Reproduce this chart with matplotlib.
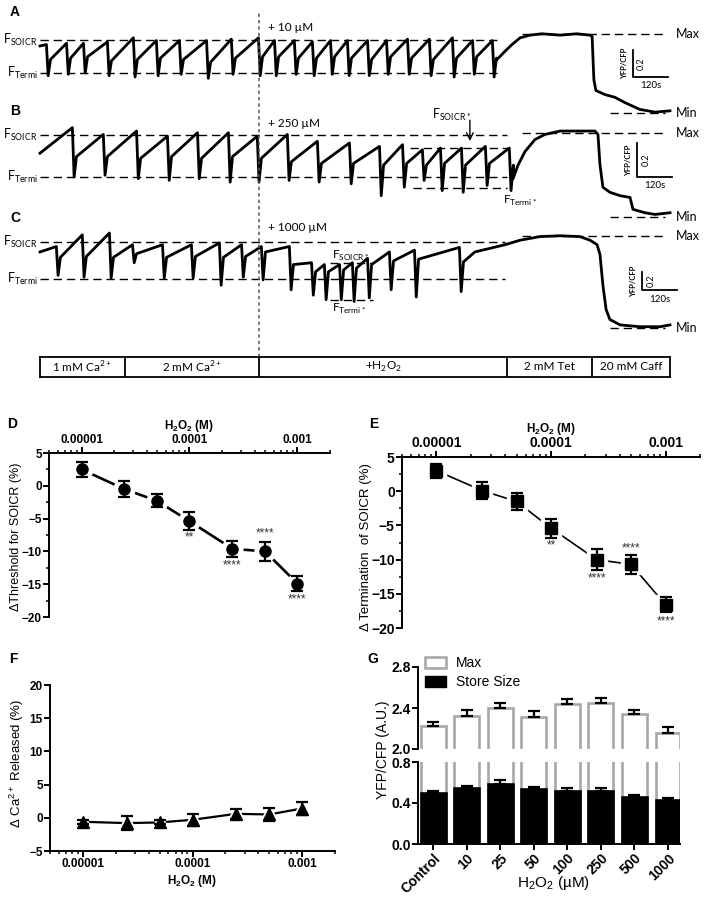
import numpy as np
import matplotlib
matplotlib.use("Agg")
import matplotlib.pyplot as plt
from matplotlib.ticker import FixedLocator, FixedFormatter, NullFormatter, LogLocator, MultipleLocator
from matplotlib.patches import Patch

# ======================= DATA =======================
# --- Traces (time in s, YFP/CFP ratio) ---
T_END = 2160
H2O2_T = 751
phase_bounds = [0, 291, 751, 1601, 1893, 2160]
phase_labels = ["1 mM Ca$^{\\mathregular{2+}}$", "2 mM Ca$^{\\mathregular{2+}}$",
                "+H$_{\\mathregular{2}}$O$_{\\mathregular{2}}$", "2 mM Tet", "20 mM Caff"]

# Trace A (+10 uM)
A_start = 2.20
A_drop_t = [24, 93, 151, 233, 322, 401, 480, 573, 658, 751, 806, 874, 936, 998, 1056, 1125, 1190, 1262, 1337, 1416, 1485, 1553]
A_peak = [2.21, 2.22, 2.22, 2.23, 2.26, 2.24, 2.24, 2.24, 2.25, 2.26, 2.24, 2.24, 2.23, 2.24, 2.24, 2.24, 2.24, 2.25, 2.25, 2.26, 2.24, 2.24]
A_trough = [1.98, 1.99, 2.00, 1.98, 1.97, 1.98, 1.99, 1.96, 1.99, 1.98, 1.98, 1.99, 1.98, 1.99, 1.98, 1.98, 1.99, 1.99, 1.98, 1.97, 1.99, 1.97]
A_recov = [2.10, 2.11, 2.12, 2.09, 2.10, 2.11, 2.10, 2.08, 2.11, 2.12, 2.12, 2.11, 2.11, 2.12, 2.11, 2.10, 2.12, 2.11, 2.10, 2.11, 2.12, 2.11]
A_tail_t = [1567, 1594, 1618, 1646, 1680, 1720, 1783, 1840, 1886, 1893, 1899, 1906, 1937, 1971, 2006, 2057, 2109, 2160]
A_tail_v = [2.10, 2.16, 2.21, 2.26, 2.28, 2.29, 2.28, 2.29, 2.28, 2.27, 1.95, 1.87, 1.84, 1.82, 1.78, 1.73, 1.71, 1.72]
A_soicr, A_termi, A_max, A_min = 2.244, 2.00, 2.289, 1.704

# Trace B (+250 uM)
B_start = 2.14
B_drop_t = [113, 219, 333, 439, 542, 648, 747, 850, 953, 1063, 1166, 1245, 1313, 1375, 1447, 1529, 1611]
B_peak = [2.29, 2.25, 2.27, 2.24, 2.26, 2.26, 2.24, 2.25, 2.21, 2.20, 2.18, 2.19, 2.16, 2.17, 2.17, 2.18, 2.17]
B_trough = [2.00, 2.01, 1.99, 1.98, 1.99, 1.97, 1.97, 1.98, 1.97, 1.96, 1.89, 1.94, 1.98, 1.92, 1.91, 1.95, 1.92]
B_recov = [2.12, 2.12, 2.11, 2.12, 2.11, 2.12, 2.11, 2.09, 2.08, 2.08, 2.07, 2.08, 2.07, 2.08, 2.07, 2.08, 2.07]
B_tail_t = [1622, 1639, 1663, 1697, 1731, 1783, 1851, 1903, 1913, 1920, 1930, 1954, 1989, 2023, 2033, 2074, 2109, 2160]
B_tail_v = [1.99, 2.07, 2.15, 2.22, 2.25, 2.27, 2.27, 2.27, 2.25, 2.07, 1.94, 1.91, 1.89, 1.88, 1.81, 1.79, 1.78, 1.79]
B_soicr, B_termi, B_max, B_min = 2.247, 2.00, 2.259, 1.765
B_soicr_star, B_termi_star = 2.171, 1.935

# Trace C (+1000 uM)
C_start = 2.30
C_drop_t = [58, 147, 240, 319, 422, 521, 617, 693, 761, 857, 933, 977, 1029, 1073, 1125, 1200, 1286, 1440]
C_peak = [2.36, 2.49, 2.51, 2.38, 2.38, 2.38, 2.40, 2.38, 2.36, 2.36, 2.18, 2.16, 2.16, 2.18, 2.23, 2.30, 2.32, 2.35]
C_trough = [2.04, 2.02, 2.01, 2.18, 2.01, 2.01, 1.93, 2.02, 1.99, 1.88, 1.82, 1.77, 1.77, 1.75, 1.79, 1.88, 1.80, 1.86]
C_recov = [2.24, 2.25, 2.24, 2.28, 2.24, 2.25, 2.24, 2.25, 2.30, 2.16, 2.08, 2.08, 2.10, 2.12, 2.16, 2.20, 2.22, 2.19]
C_tail_t = [1491, 1543, 1594, 1646, 1714, 1783, 1851, 1886, 1910, 1920, 1930, 1941, 1954, 1989, 2057, 2126, 2160]
C_tail_v = [2.30, 2.34, 2.38, 2.43, 2.47, 2.48, 2.47, 2.43, 2.38, 2.27, 1.93, 1.66, 1.55, 1.49, 1.47, 1.47, 1.49]
C_soicr, C_termi, C_max, C_min = 2.411, 2.00, 2.477, 1.456
C_soicr_star, C_termi_star = 2.178, 1.767

# --- D/E/F ---
conc_M = [1e-5, 2.5e-5, 5e-5, 1e-4, 2.5e-4, 5e-4, 1e-3]
thr_mean = [2.5, -0.5, -2.3, -5.4, -9.6, -10.0, -14.9]
thr_err = [1.1, 1.2, 1.0, 1.35, 1.25, 1.45, 1.2]
thr_stars = ["", "", "", "**", "****", "****", "****"]
thr_star_y = [0, 0, 0, -7.8, -12.1, -7.3, -17.3]

term_mean = [3.0, 0.1, -1.5, -5.4, -10.0, -10.7, -16.6]
term_err = [1.0, 1.2, 1.3, 1.4, 1.55, 1.4, 1.1]
term_stars = ["", "", "", "**", "****", "****", "****"]
term_star_y = [0, 0, 0, -8.0, -12.8, -8.3, -19.1]

ca_mean = [-0.6, -0.8, -0.7, -0.3, 0.6, 0.5, 1.4]
ca_err = [0.3, 1.1, 0.3, 0.9, 0.8, 1.0, 1.0]

log_ticks = [1e-5, 1e-4, 1e-3]
log_ticklabels = ["0.00001", "0.0001", "0.001"]

# --- G ---
g_cats = ["Control", "10", "25", "50", "100", "250", "500", "1000"]
max_vals = [2.22, 2.32, 2.40, 2.315, 2.44, 2.445, 2.34, 2.16]
max_err = [0.04, 0.06, 0.05, 0.055, 0.05, 0.05, 0.04, 0.05]
store_vals = [0.50, 0.545, 0.59, 0.535, 0.52, 0.52, 0.46, 0.43]
store_err = [0.02, 0.023, 0.03, 0.025, 0.025, 0.025, 0.016, 0.02]

# ======================= FIGURE =======================
W, H = 705, 902
fig = plt.figure(figsize=(W / 100, H / 100), dpi=100)
TOPF = ["Lato", "DejaVu Sans"]
LOWF = ["Liberation Sans", "DejaVu Sans"]
plt.rcParams["font.family"] = LOWF


def rect(x0, y0, x1, y1):
    return [x0 / W, 1 - y1 / H, (x1 - x0) / W, (y1 - y0) / H]


def build(start_v, drop_t, peak, trough, recov, tail_t, tail_v):
    t = [0.0]
    v = [start_v]
    for dt, p, tr, rc in zip(drop_t, peak, trough, recov):
        t += [dt - 2, dt + 4, dt + 12]
        v += [p, tr, rc]
    return np.array(t + list(tail_t), float), np.array(v + list(tail_v), float)


DASH = (0, (6, 3.5))


def trace_axes(box, ylim, t, v):
    ax = fig.add_axes(rect(*box))
    ax.set_xlim(0, T_END)
    ax.set_ylim(*ylim)
    ax.axis("off")
    ax.patch.set_alpha(0)
    ax.plot(t, v, color="black", lw=2.0, solid_joinstyle="round", clip_on=False)
    return ax


def ref(ax, level, t0, t1):
    ax.plot([t0, t1], [level, level], color="black", lw=1.0, ls=DASH, clip_on=False)


def flabel(ax, name, level):
    ax.text(-8, level, "F$_{\\mathregular{%s}}$" % name, ha="right", va="center",
            fontsize=9, family=TOPF)


def rlabel(ax, name, level):
    ax.text(2180, level, name, ha="left", va="center", fontsize=9, family=TOPF)


def scalebar(ax, t0, v0, dv, sx, sy):
    ax.plot([t0, t0, t0 + 120], [v0 + dv, v0, v0], color="black", lw=1.3, clip_on=False)
    ax.text(t0 + 60, v0 - sy, "120s", ha="center", va="center", fontsize=7, family=TOPF)
    ax.text(t0 + sx, v0 + dv / 2, "0.2", rotation=90, ha="center", va="center",
            fontsize=6.5, family=TOPF)
    ax.text(t0 - sx, v0 + dv / 2, "YFP/CFP", rotation=90, ha="center", va="center",
            fontsize=5.5, family=TOPF, fontweight="bold")


# ---- Trace A ----
tA, vA = build(A_start, A_drop_t, A_peak, A_trough, A_recov, A_tail_t, A_tail_v)
axA = trace_axes((40, 20, 670, 125), (1.615, 2.392), tA, vA)
ref(axA, A_soicr, 0, 1567); ref(axA, A_termi, 0, 1567)
ref(axA, A_max, 1653, 2143); ref(axA, A_min, 1954, 2143)
flabel(axA, "SOICR", A_soicr); flabel(axA, "Termi", A_termi)
rlabel(axA, "Max", A_max); rlabel(axA, "Min", A_min)
axA.text(782, 2.333, "+ 10 \u00b5M", ha="left", va="center", fontsize=8.5, family=TOPF)
scalebar(axA, 2033, 1.970, 0.2, 30, 0.066)

# ---- Trace B ----
tB, vB = build(B_start, B_drop_t, B_peak, B_trough, B_recov, B_tail_t, B_tail_v)
axB = trace_axes((40, 105, 670, 225), (1.718, 2.423), tB, vB)
ref(axB, B_soicr, 0, 1601); ref(axB, B_termi, 0, 1601)
ref(axB, B_soicr_star, 1268, 1601); ref(axB, B_termi_star, 1279, 1601)
ref(axB, B_max, 1653, 2143); ref(axB, B_min, 1954, 2143)
flabel(axB, "SOICR", B_soicr); flabel(axB, "Termi", B_termi)
rlabel(axB, "Max", B_max); rlabel(axB, "Min", B_min)
axB.text(782, 2.312, "+ 250 \u00b5M", ha="left", va="center", fontsize=8.5, family=TOPF)
axB.text(1344, 2.362, "F$_{\\mathregular{SOICR*}}$", ha="left", va="center", fontsize=9, family=TOPF)
axB.annotate("", xy=(1474, 2.195), xytext=(1474, 2.35),
             arrowprops=dict(arrowstyle="->", color="black", lw=1.0, mutation_scale=12))
axB.text(1587, 1.862, "F$_{\\mathregular{Termi*}}$", ha="left", va="center", fontsize=8.5, family=TOPF)
scalebar(axB, 2047, 2.00, 0.2, 30, 0.05)

# ---- Trace C ----
tC, vC = build(C_start, C_drop_t, C_peak, C_trough, C_recov, C_tail_t, C_tail_v)
axC = trace_axes((40, 215, 670, 335), (1.378, 2.710), tC, vC)
ref(axC, C_soicr, 0, 1594); ref(axC, C_termi, 0, 1594)
ref(axC, C_soicr_star, 994, 1142); ref(axC, C_termi_star, 994, 1142)
ref(axC, C_max, 1653, 2143); ref(axC, C_min, 1954, 2143)
flabel(axC, "SOICR", C_soicr); flabel(axC, "Termi", C_termi)
rlabel(axC, "Max", C_max); rlabel(axC, "Min", C_min)
axC.text(782, 2.566, "+ 1000 \u00b5M", ha="left", va="center", fontsize=8.5, family=TOPF)
axC.text(1000, 2.25, "F$_{\\mathregular{SOICR*}}$", ha="left", va="center", fontsize=8.5, family=TOPF)
axC.text(1000, 1.667, "F$_{\\mathregular{Termi*}}$", ha="left", va="center", fontsize=8.5, family=TOPF)
scalebar(axC, 2064, 1.878, 0.2, 30, 0.11)

# vertical H2O2 line
axV = fig.add_axes(rect(40, 12, 670, 357))
axV.set_xlim(0, T_END); axV.set_ylim(0, 1); axV.axis("off"); axV.patch.set_alpha(0)
axV.axvline(H2O2_T, color="#555555", lw=1.1, ls=(0, (2.2, 2.0)))

# phase box
axP = fig.add_axes(rect(40, 357, 670, 377))
axP.set_xlim(0, T_END); axP.set_ylim(0, 1)
axP.set_xticks([]); axP.set_yticks([])
for s in axP.spines.values():
    s.set_linewidth(1.3)
for b in phase_bounds[1:-1]:
    axP.axvline(b, color="black", lw=1.3)
for i, lab in enumerate(phase_labels):
    axP.text((phase_bounds[i] + phase_bounds[i + 1]) / 2, 0.5, lab, ha="center", va="center",
             fontsize=8.5, family=TOPF)

# panel letters
for lab, x, y in [("A", 10, 12), ("B", 10, 111), ("C", 10, 218), ("D", 7, 424), ("E", 369, 424),
                  ("F", 9, 659), ("G", 367, 659)]:
    fig.text(x / W, 1 - y / H, lab, ha="left", va="center", fontsize=10, fontweight="bold",
             family=LOWF)

# ---------------- D / E / F ----------------
H2O2_M = "H$_{\\mathregular{2}}$O$_{\\mathregular{2}}$ (M)"


def log_axes(box, ylim, top, tick_fs, yticks, yminor):
    ax = fig.add_axes(rect(*box))
    ax.set_xscale("log")
    ax.set_xlim(5e-6, 2e-3)
    ax.set_ylim(*ylim)
    ax.xaxis.set_major_locator(FixedLocator(log_ticks))
    ax.xaxis.set_major_formatter(FixedFormatter(log_ticklabels))
    ax.xaxis.set_minor_locator(LogLocator(base=10, subs=np.arange(2, 10), numticks=20))
    ax.xaxis.set_minor_formatter(NullFormatter())
    ax.yaxis.set_major_locator(FixedLocator(yticks))
    if yminor:
        ax.yaxis.set_minor_locator(MultipleLocator(yminor))
    ax.spines["right"].set_visible(False)
    if top:
        ax.spines["bottom"].set_visible(False)
        ax.xaxis.tick_top()
        ax.xaxis.set_label_position("top")
    else:
        ax.spines["top"].set_visible(False)
    for s in ax.spines.values():
        s.set_linewidth(1.4)
    ax.tick_params(which="major", direction="out", length=4, width=1.4, pad=1.2,
                   labelsize=tick_fs)
    ax.tick_params(which="minor", direction="out", length=2.5, width=1.1)
    for lab in ax.get_xticklabels() + ax.get_yticklabels():
        lab.set_fontweight("bold")
    ax.patch.set_alpha(0)
    return ax


def points(ax, y, err, marker, ms, halo, lw):
    ax.plot(conc_M, y, color="black", lw=lw, zorder=1, clip_on=False)
    ax.plot(conc_M, y, ls="none", marker=marker, ms=halo, color="white", zorder=2, clip_on=False)
    ax.errorbar(conc_M, y, yerr=err, fmt="none", ecolor="black", elinewidth=1.6, capsize=4,
                capthick=1.6, zorder=3, clip_on=False)
    ax.plot(conc_M, y, ls="none", marker=marker, ms=ms, color="black", zorder=4, clip_on=False)


# D
axD = log_axes((49, 453, 330, 617), (-20, 5), True, 8.5, [5, 0, -5, -10, -15, -20], 2.5)
points(axD, thr_mean, thr_err, "o", 8, 15, 1.9)
for x, s, yy in zip(conc_M, thr_stars, thr_star_y):
    if s:
        axD.text(x, yy, s, ha="center", va="center", fontsize=8.5, color="#333333")
axD.set_xlabel(H2O2_M, fontsize=8.5, fontweight="bold", labelpad=3.5)
fig.text(16 / W, 1 - 537 / H, "\u0394Threshold for SOICR (%)", rotation=90, ha="center",
         va="center", fontsize=9)

# E
axE = log_axes((402, 457, 700, 628), (-20, 5), True, 10, [5, 0, -5, -10, -15, -20], 2.5)
points(axE, term_mean, term_err, "s", 8.5, 15, 1.2)
for x, s, yy in zip(conc_M, term_stars, term_star_y):
    if s:
        axE.text(x, yy, s, ha="center", va="center", fontsize=8.5, color="#333333")
axE.set_xlabel(H2O2_M, fontsize=8.5, fontweight="bold", labelpad=3)
fig.text(366 / W, 1 - 547 / H, "\u0394 Termination  of SOICR (%)", rotation=90, ha="center",
         va="center", fontsize=9.5)

# F
axF = log_axes((50, 685, 335, 851), (-5, 20), False, 8.5, [20, 15, 10, 5, 0, -5], None)
points(axF, ca_mean, ca_err, "^", 8.5, 15, 1.6)
axF.set_xlabel(H2O2_M, fontsize=8.5, fontweight="bold", labelpad=2)
fig.text(17 / W, 1 - 763 / H, "\u0394 Ca$^{\\mathregular{2+}}$ Released (%)", rotation=90,
         ha="center", va="center", fontsize=9.5)

# ---------------- G ----------------
GRAY = "#a8a8a8"
x = np.arange(len(g_cats))
axGt = fig.add_axes(rect(418, 667, 680, 749))
axGb = fig.add_axes(rect(418, 762, 680, 844))
for ax in (axGt, axGb):
    ax.set_xlim(-0.45, 7.36)
    ax.bar(x, max_vals, width=0.74, color="white", edgecolor=GRAY, lw=1.9, zorder=2)
    ax.errorbar(x, max_vals, yerr=[np.zeros(len(x)), max_err], fmt="none", ecolor="black",
                elinewidth=1.6, capsize=4.5, capthick=1.6, zorder=3)
    ax.spines["right"].set_visible(False)
    ax.spines["top"].set_visible(False)
    for s in ax.spines.values():
        s.set_linewidth(1.4)
    ax.tick_params(direction="out", length=4, width=1.4, labelsize=10, pad=1)
    ax.patch.set_alpha(0)
axGb.bar(x, store_vals, width=0.74, color="black", edgecolor="black", lw=1.9, zorder=4)
axGb.errorbar(x, store_vals, yerr=[np.zeros(len(x)), store_err], fmt="none", ecolor="black",
              elinewidth=1.6, capsize=4.5, capthick=1.6, zorder=5)
axGt.set_ylim(2.0, 2.8)
axGt.set_yticks([2.0, 2.4, 2.8])
axGt.set_yticklabels(["2.0", "2.4", "2.8"])
axGt.spines["bottom"].set_visible(False)
axGt.set_xticks([])
axGb.set_ylim(0, 0.8)
axGb.set_yticks([0.0, 0.4, 0.8])
axGb.set_yticklabels(["0.0", "0.4", "0.8"])
axGb.set_xticks(x)
axGb.set_xticklabels(g_cats, rotation=45, ha="right", rotation_mode="anchor")
for ax in (axGt, axGb):
    for lab in ax.get_xticklabels() + ax.get_yticklabels():
        lab.set_fontweight("bold")
fig.text(553 / W, 1 - 883 / H, "H$_{\\mathregular{2}}$O$_{\\mathregular{2}}$ (\u00b5M)",
         ha="center", va="center", fontsize=11)
fig.text(383 / W, 1 - 750 / H, "YFP/CFP (A.U.)", rotation=90, ha="center", va="center", fontsize=10)

handles = [Patch(facecolor="white", edgecolor=GRAY, lw=1.9, label="Max"),
           Patch(facecolor="black", edgecolor="black", label="Store Size")]
fig.legend(handles=handles, loc="upper left", bbox_to_anchor=(425 / W, 1 - 656 / H),
           frameon=False, fontsize=10, handlelength=1.5, handleheight=0.85, handletextpad=0.7,
           labelspacing=0.35, borderpad=0, borderaxespad=0)

fig.savefig("out.png", dpi=100)
